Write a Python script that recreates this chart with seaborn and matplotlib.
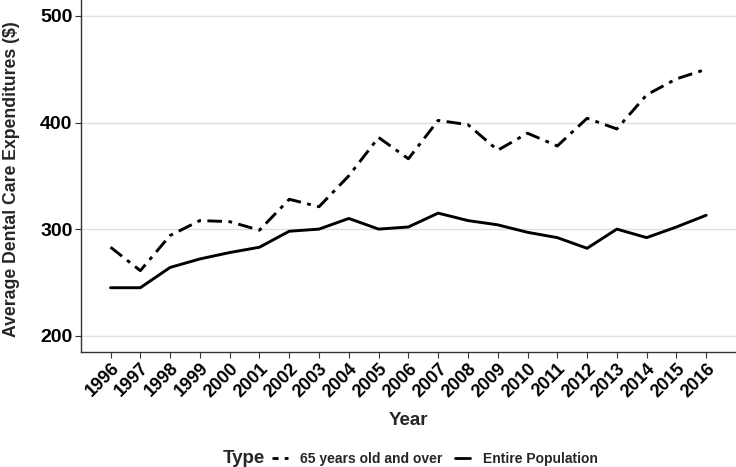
import pandas as pd
import numpy as np
import matplotlib
matplotlib.use('Agg')
import matplotlib.pyplot as plt
from matplotlib.lines import Line2D
import seaborn as sns

# Values
years = list(range(1996, 2017))
over_65 = [283, 261, 294, 308, 307, 299, 328, 321, 350, 386, 366,
           402, 398, 374, 390, 378, 404, 394, 426, 441, 450]
entire_pop = [245, 245, 264, 272, 278, 283, 298, 300, 310, 300, 302,
              315, 308, 304, 297, 292, 282, 300, 292, 302, 313]
types = ['65 years old and over', 'Entire Population']
y_ticks = [200, 300, 400, 500]

df = pd.DataFrame({
    'Year': years * 2,
    'Value': over_65 + entire_pop,
    'Type': [types[0]] * len(years) + [types[1]] * len(years),
})

sns.set_theme(style='white')
plt.rcParams['font.family'] = ['Liberation Sans', 'DejaVu Sans']
plt.rcParams['font.weight'] = 'bold'

fig = plt.figure(figsize=(7.36, 4.67), dpi=100)
ax = fig.add_axes([0.1097, 0.247, 0.8903, 0.753])

sns.lineplot(data=df, x='Year', y='Value', style='Type',
             style_order=types, color='black', linewidth=2.1,
             dashes={types[0]: (5, 2.2, 1.3, 2.2), types[1]: ''},
             legend=False, ax=ax)

ax.set_xlim(1995, 2017)
ax.set_ylim(185, 515)
ax.set_yticks(y_ticks)
ax.set_xticks(years)
ax.set_xticklabels([str(y) for y in years], rotation=45, ha='right',
                   rotation_mode='anchor', fontsize=13, fontweight='bold',
                   color='black')
ax.set_yticklabels([str(v) for v in y_ticks], fontsize=14,
                   fontweight='bold', color='black')
ax.tick_params(axis='both', length=4, width=0.8, color='#333333', pad=2,
               bottom=True, left=True)
ax.yaxis.grid(True, color='#e0e0e0', linewidth=1.0)
ax.xaxis.grid(False)
ax.set_axisbelow(True)
for side in ['top', 'right']:
    ax.spines[side].set_visible(False)
for side in ['left', 'bottom']:
    ax.spines[side].set_color('#333333')
    ax.spines[side].set_linewidth(1.0)

ax.set_xlabel('Year', fontsize=13.5, fontweight='bold', labelpad=8)
ax.set_ylabel('Average Dental Care Expenditures ($)', fontsize=12.7,
              fontweight='bold')
ax.yaxis.set_label_coords(-0.093, 0.49)

handles = [
    Line2D([], [], color='black', linewidth=2.0, dashes=(2.2, 2.2)),
    Line2D([], [], color='black', linewidth=2.0),
]
fig.text(0.302, 0.0, 'Type', fontsize=13.5, fontweight='bold',
         ha='left', va='bottom')
fig.legend(handles, types, loc='lower left', bbox_to_anchor=(0.353, -0.025),
           ncol=2, frameon=False, handlelength=1.1, handletextpad=0.9,
           columnspacing=0.9, prop={'size': 10, 'weight': 'bold'})

fig.savefig('out.png', dpi=100)
